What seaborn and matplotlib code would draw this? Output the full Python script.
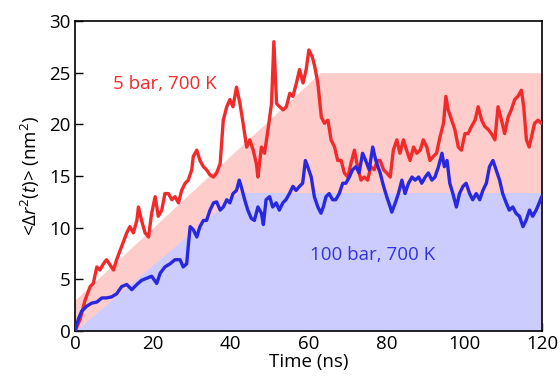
import matplotlib
matplotlib.use("Agg")
import matplotlib.pyplot as plt
import seaborn as sns
import pandas as pd

# ---- data ----
red_x = [0, 1.3, 2.6, 3.9, 4.7, 5.6, 6.4, 7.3, 8.1, 9.0, 9.9, 10.7, 11.6, 12.4, 13.3, 14.1, 15.0, 15.9, 16.3, 17.1,
         18.0, 18.9, 19.7, 20.6, 21.4, 22.3, 23.1, 24.0, 24.9, 25.7, 26.6, 27.4, 28.3, 29.1, 30.0, 30.4, 31.3, 32.1, 33.0, 33.8,
         34.7, 35.6, 36.4,
         37.3, 38.1, 39.0, 39.8, 40.6, 41.5, 42.4, 43.2, 44.1, 44.9, 45.8, 46.6, 47.0, 47.9, 48.7, 49.6, 50.5, 51.1, 51.8, 52.6,
         53.5, 54.3, 55.2, 56.0, 56.9, 57.7, 58.6, 59.4, 60.1, 61.0, 61.6, 62.4, 63.3, 64.1, 65.0, 65.8, 66.7, 67.5, 68.4, 69.2,
         70.1, 70.9, 71.8, 72.6, 73.5, 74.3, 75.2, 76.0, 76.9, 77.7,
         78.4, 79.3, 80.1, 81.0, 81.8, 82.7, 83.5, 84.4, 85.2, 86.1, 87.0, 87.8, 88.7, 89.5, 90.4, 91.2, 92.1, 92.9, 93.8, 94.7,
         95.3, 95.9, 96.8, 97.6, 98.5, 99.3, 100.2, 101.0, 101.9, 102.8, 103.6, 104.5, 105.3, 106.2, 107.0, 107.9, 108.7, 109.6,
         110.4, 111.3, 112.1, 113.0, 113.8, 114.7, 115.3, 116.0, 116.7, 117.3, 118.1, 119.0, 119.8]
red_y = [0, 1.1, 3.0, 4.3, 4.6, 6.2, 5.9, 6.5, 6.9, 6.4, 5.9, 6.9, 7.8, 8.6, 9.5, 10.1, 9.5, 10.7, 12.0, 10.7,
         9.5, 9.1, 11.4, 13.0, 11.1, 11.7, 13.3, 13.3, 12.7, 13.0, 12.4, 13.6, 14.3, 14.6, 15.6, 16.9, 17.5, 16.5, 15.9, 15.6,
         15.1, 14.9, 15.3,
         16.2, 20.4, 21.7, 22.4, 21.7, 23.6, 22.0, 20.1, 17.8, 18.5, 17.5, 16.2, 14.9, 17.8, 17.2, 19.5, 22.0, 28.0, 22.0, 21.7,
         21.4, 21.7, 23.0, 22.7, 24.0, 25.3, 24.0, 25.3, 27.2, 26.5, 25.6, 24.0, 20.7, 20.1, 20.4, 18.5, 17.8, 16.5, 16.5, 15.3,
         14.9, 16.2, 17.5, 15.9, 14.6, 14.9, 14.6, 15.9, 15.6, 16.5,
         16.5, 15.6, 15.3, 14.9, 17.5, 18.5, 17.2, 18.5, 17.5, 16.5, 17.8, 17.2, 17.5, 18.5, 17.8, 16.5, 16.9, 17.2, 18.8, 20.1,
         22.7, 21.4, 20.4, 19.5, 17.8, 17.5, 19.1, 19.1, 19.8, 20.4, 21.7, 20.4, 19.8, 19.5, 19.1, 18.5, 21.7, 20.4,
         19.1, 20.7, 21.4, 22.4, 22.7, 23.3, 21.7, 18.5, 17.8, 18.8, 20.1, 20.4, 20.1]

blue_x = [0, 0.9, 1.7, 3.0, 4.3, 5.6, 6.9, 8.1, 9.4, 10.7, 12.0, 13.3, 14.6, 15.9, 17.1, 18.4, 19.7, 21.0, 21.9, 23.1,
          24.4, 25.7, 27.0, 27.8, 28.7, 29.1, 29.6, 30.4, 31.3, 32.1, 33.0, 33.8, 34.7, 35.6, 36.4,
          37.3, 38.1, 39.0, 39.8, 40.6, 41.5, 42.2, 42.7, 43.6, 44.4, 45.3, 46.1, 47.0, 47.9, 48.4, 49.1, 50.0, 50.8, 51.7, 52.5,
          53.4, 54.2, 55.1, 56.0, 56.8, 57.7, 58.5, 59.2, 59.8, 60.7, 61.5, 62.4, 63.2, 63.8, 64.5, 65.3, 66.2, 67.0, 67.9, 68.8,
          69.6, 70.5, 71.3, 72.2, 73.0, 73.9, 74.7, 75.6, 76.5, 77.3,
          78.4, 79.3, 80.1, 81.0, 81.4, 82.3, 83.1, 84.0, 84.8, 85.7, 86.6, 87.4, 88.3, 89.1, 90.0, 90.8, 91.7, 92.5, 93.4, 94.3,
          94.9, 95.6, 96.3, 97.1, 98.0, 98.8, 99.7, 100.5, 101.4, 102.2, 103.1, 104.0, 104.8, 105.7, 106.5, 107.4, 108.2, 109.1,
          109.9, 110.8, 111.6, 112.5, 113.3, 114.2, 115.1, 115.9, 116.8, 117.6, 118.5, 119.3, 119.9]
blue_y = [0, 1.2, 1.9, 2.4, 2.7, 2.8, 3.2, 3.2, 3.3, 3.6, 4.3, 4.5, 4.0, 4.5, 4.9, 5.1, 5.3, 4.6, 5.6, 6.2,
          6.5, 6.9, 6.9, 6.2, 6.5, 8.2, 10.1, 9.8, 9.1, 10.1, 10.7, 10.7, 11.7, 12.4, 12.5,
          11.7, 12.0, 12.7, 12.4, 13.3, 13.6, 14.6, 14.0, 12.7, 11.7, 10.9, 10.7, 12.0, 11.4, 10.3, 12.7, 13.0, 12.0, 12.4, 11.7,
          12.4, 12.7, 13.3, 14.0, 13.6, 14.0, 14.3, 16.5, 15.9, 14.9, 13.0, 12.0, 11.4, 12.0, 13.0, 13.3, 12.7, 12.7, 13.3, 14.3,
          14.3, 14.9, 15.6, 15.9, 15.3, 17.2, 16.5, 15.6, 17.8, 16.5,
          15.3, 14.0, 13.0, 12.0, 11.5, 12.4, 13.3, 14.6, 13.3, 14.3, 14.9, 14.6, 14.9, 14.3, 14.9, 15.3, 14.6, 14.9, 15.9, 17.2,
          15.9, 16.5, 14.3, 13.3, 12.0, 13.3, 14.0, 14.3, 13.3, 12.7, 13.3, 12.7, 13.6, 14.3, 15.9, 16.5, 15.6, 14.6,
          13.3, 12.4, 11.7, 12.0, 11.4, 11.1, 10.1, 10.7, 11.7, 11.1, 11.7, 12.4, 13.0]

# shaded guide regions (vertices of upper edges)
red_band_x = [0, 63, 120]
red_band_y = [3.0, 25.0, 25.0]
blue_band_x = [0, 42, 120]
blue_band_y = [0.0, 13.4, 13.4]

red_label = "5 bar, 700 K"
blue_label = "100 bar, 700 K"

# ---- style ----
sns.set_theme(style="ticks")
plt.rcParams['font.family'] = ['Open Sans', 'DejaVu Sans']
plt.rcParams['mathtext.fontset'] = 'custom'
plt.rcParams['mathtext.rm'] = 'Open Sans'
plt.rcParams['mathtext.it'] = 'Open Sans:italic'
plt.rcParams['text.color'] = 'black'
plt.rcParams['axes.labelcolor'] = 'black'
plt.rcParams['xtick.color'] = 'black'
plt.rcParams['ytick.color'] = 'black'

RED = "#f22a2a"
BLUE = "#2828e0"
FS = 13.5

fig = plt.figure(figsize=(5.6, 3.81), dpi=100)
ax = fig.add_axes([75 / 560, 50 / 381, 467 / 560, 310 / 381])

ax.fill_between(red_band_x, 0, red_band_y, color="#ffcccc", lw=0, zorder=1)
ax.fill_between(blue_band_x, 0, blue_band_y, color="#ccccff", lw=0, zorder=2)

df_red = pd.DataFrame({"t": red_x, "msd": red_y})
df_blue = pd.DataFrame({"t": blue_x, "msd": blue_y})
sns.lineplot(data=df_red, x="t", y="msd", ax=ax, color=RED, lw=2.4, zorder=3)
sns.lineplot(data=df_blue, x="t", y="msd", ax=ax, color=BLUE, lw=2.4, zorder=4)

ax.text(9.7, 23.9, red_label, color=RED, fontsize=FS, va="center", ha="left", zorder=5)
ax.text(60.4, 7.4, blue_label, color="#3333dd", fontsize=FS, va="center", ha="left", zorder=5)

ax.set_xlim(0, 120)
ax.set_ylim(0, 30)
ax.set_xticks([0, 20, 40, 60, 80, 100, 120])
ax.set_yticks([0, 5, 10, 15, 20, 25, 30])
ax.tick_params(direction="in", length=6, width=1, labelsize=FS, colors="black", pad=3)
for s in ax.spines.values():
    s.set_visible(True)
    s.set_linewidth(1.2)
    s.set_color("black")
ax.set_xlabel("Time (ns)", fontsize=FS, labelpad=0)
ax.set_ylabel(r"<Δ$r^2$($t$)> (nm$^2$)", fontsize=FS, labelpad=5)
ax.set_facecolor("white")

fig.savefig("out.png", dpi=100)
